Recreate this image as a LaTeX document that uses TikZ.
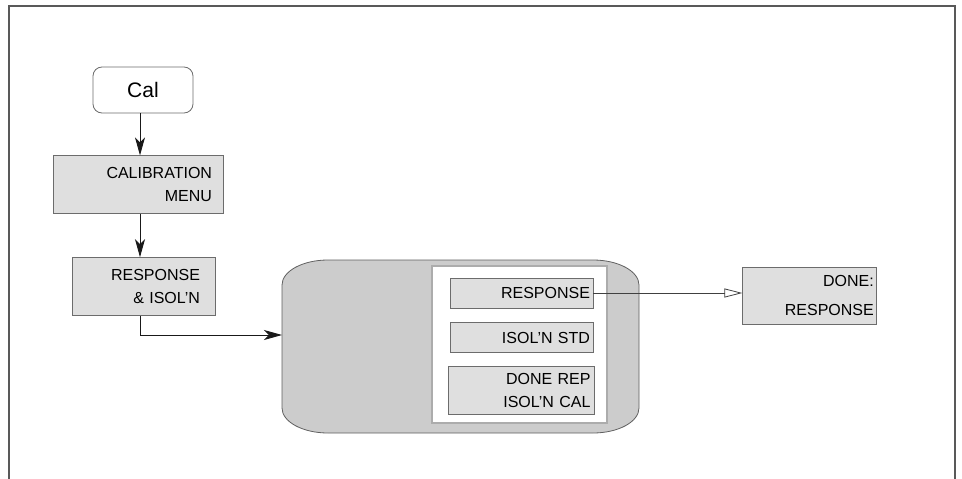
\documentclass[tikz,border=0pt]{standalone}
\usepackage{fontspec}
\setmainfont{Liberation Sans}
\usetikzlibrary{arrows.meta}
\usetikzlibrary{positioning}
\usetikzlibrary{calc}

\begin{document}
\begin{tikzpicture}[x=1pt,y=1pt]
			\tikzstyle{menubox}=[draw=gray!85!black,fill=gray!25,line width=0.8pt,align=right,inner ysep=0pt,font=\fontsize{16}{23}\selectfont]
			\tikzstyle{calbox}=[draw=gray!85!black,fill=white,line width=0.8pt,rounded corners=9pt,minimum width=100pt,minimum height=46pt,font=\fontsize{21}{25}\selectfont]
			\tikzstyle{flow}=[-{Stealth[length=18pt,width=10pt,inset=5pt]},line width=0.9pt,black!90]
			\tikzstyle{openflow}=[-{Triangle[open,length=18pt,width=9pt]},line width=0.8pt,gray!50!black]

			\useasboundingbox (0,0) rectangle (962,-479);
			\draw[line width=1.5pt,black!65] (9,-479) -- (9,-6) -- (955,-6) -- (955,-479);

			\node (cal) [calbox] at (143,-90) {Cal};
			\node (calmenu) [menubox,below=42pt of cal,xshift=-5pt,minimum height=58pt,text width=148pt,inner xsep=11pt] {CALIBRATION\\MENU};
			\node (resp) [menubox,below=43pt of calmenu,xshift=5.5pt,minimum height=58pt,text width=113pt,inner xsep=15pt] {RESPONSE\\\& ISOL'N};

			% softkey panel
			\draw[draw=gray!75!black,fill=gray!40,line width=0.8pt]
			(282,-285) arc[start angle=180,end angle=90,x radius=46,y radius=25] -- (593,-260)
			arc[start angle=90,end angle=0,x radius=46,y radius=25] -- (639,-408)
			arc[start angle=0,end angle=-90,x radius=46,y radius=25] -- (328,-433)
			arc[start angle=270,end angle=180,x radius=46,y radius=25] -- cycle;
			\coordinate (panelin) at (282,-335);
			\coordinate (spine) at (140,0);
			\node (keys) [draw=gray!65,line width=1.6pt,fill=white,minimum width=175pt,minimum height=157pt] at (519.5,-344.5) {};

			\node (r1) [menubox,minimum height=30pt,text width=137pt,inner xsep=3pt] at (521.5,-293) {RESPONSE};
			\node (r2) [menubox,below=14pt of r1,minimum height=30pt,text width=137pt,inner xsep=3pt] {ISOL'N STD};
			\node (r3) [menubox,below=13pt of r2,minimum height=48pt,text width=138pt,inner xsep=4pt] {DONE REP\\ISOL'N CAL};

			\node (done) [menubox,right=149pt of r1,yshift=-2.5pt,minimum height=57pt,text width=128pt,inner xsep=3pt,font=\fontsize{16}{29}\selectfont] {DONE:\\RESPONSE};

			\draw[flow] (cal.south -| spine) -- (calmenu.north -| spine);
			\draw[flow] (calmenu.south -| spine) -- (resp.north -| spine);
			\draw[flow] (resp.south -| spine) |- (panelin);
			\draw[openflow] (r1.east) -- (r1.east -| done.west);
\end{tikzpicture}
\end{document}
